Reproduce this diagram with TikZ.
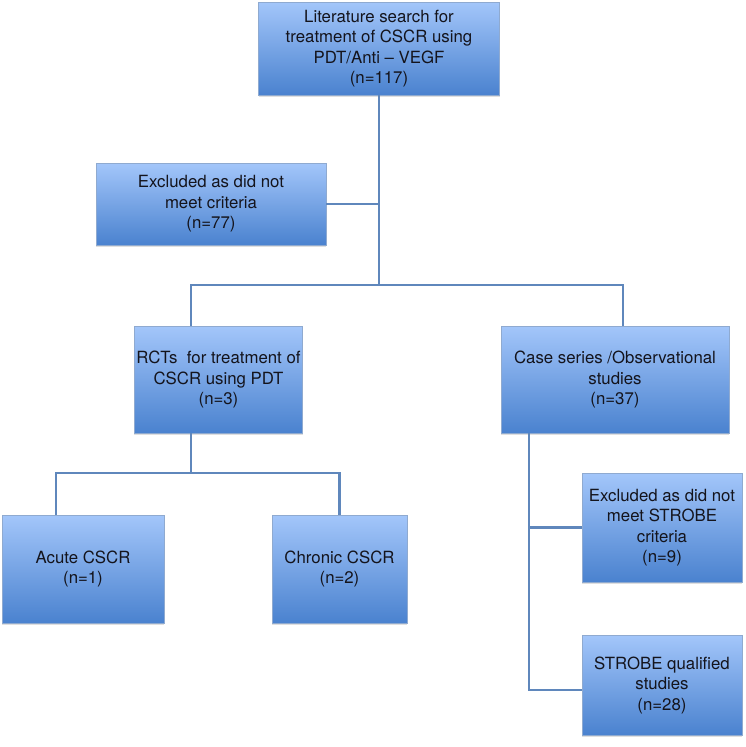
\documentclass[tikz,border=0pt]{standalone}
\usepackage{fontspec}
\setmainfont{TeX Gyre Heros}
\usepackage{tikz}
\usetikzlibrary{shadows}
\definecolor{boxtop}{HTML}{A3C6FA}
\definecolor{boxbot}{HTML}{4A82CF}
\definecolor{boxline}{HTML}{8FAAD0}
\definecolor{linkcol}{HTML}{5F87BC}
\definecolor{txtcol}{HTML}{14141C}
\tikzset{
	box/.style 2 args={rectangle,draw=boxline,line width=0.6pt,top color=boxtop,bottom color=boxbot,
		minimum width=#1,minimum height=#2,inner sep=2pt,align=center,text=txtcol,
		font=\fontsize{16.8}{20.5}\selectfont,
		drop shadow={opacity=0.25,shadow xshift=0pt,shadow yshift=-2pt}},
	link/.style={draw=linkcol,line width=2.2pt,line join=miter}
}
\begin{document}
\begin{tikzpicture}[x=1pt,y=-1pt]
						\useasboundingbox (0,0) rectangle (746,747);

						\node [box={241pt}{93pt}] (search) at (379,48.5) {Literature search for\\treatment of CSCR using\\PDT/Anti -- VEGF\\(n=117)};
						\node [box={230pt}{82pt}] (excl) at (211,204) {Excluded as did not\\meet criteria\\(n=77)};
						\node [box={161pt}{107pt}] (rct) at (218.5,379.5) {RCTs\ \ for treatment of\\CSCR using PDT\\(n=3)};
						\node [box={228pt}{107pt}] (case) at (615,379.5) {Case series /Observational\\studies\\(n=37)};
						\node [box={162pt}{108pt}] (acute) at (83,569) {Acute CSCR\\(n=1)};
						\node [box={135pt}{108pt}] (chronic) at (339.5,569) {Chronic CSCR\\(n=2)};
						\node [box={160pt}{109pt}] (exstrobe) at (662,527.5) {Excluded as did not\\meet STROBE\\criteria\\(n=9)};
						\node [box={160pt}{100pt}] (strobe) at (662,685) {STROBE qualified\\studies\\(n=28)};

						\coordinate (lsplit) at (191,285);
						\coordinate (rsplit) at (623,285);
						\coordinate (asplit) at (56,473);
						\coordinate (csplit) at (191,473);
						\coordinate (cstem) at (529,690);

						\draw [link] (search.south) -- (search.south |- lsplit);
						\draw [link] (excl.east) -- (excl.east -| search.south);
						\draw [link] (lsplit |- rct.north) -- (lsplit) -- (rsplit) -- (rsplit |- case.north);
						\draw [link] (csplit |- rct.south) -- (csplit);
						\draw [link] (asplit |- acute.north) -- (asplit) -- (chronic.north |- asplit) -- (chronic.north);
						\draw [link] (cstem |- case.south) -- (cstem) -- (cstem -| strobe.west);
						\draw [link] (cstem |- exstrobe.west) -- (exstrobe.west);
					\end{tikzpicture}
\end{document}
